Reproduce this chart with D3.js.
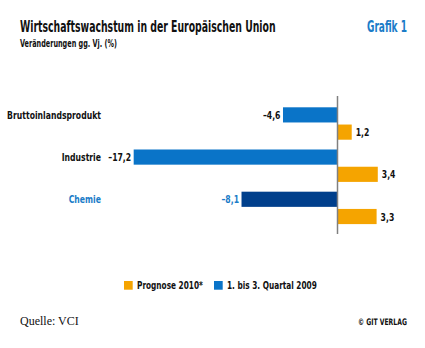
<!DOCTYPE html>
<html>
<head>
<meta charset="utf-8">
<script src="https://cdn.jsdelivr.net/npm/d3@7"></script>
<style>
  body { margin: 0; background: #fff; }
  text { font-family: "DejaVu Sans Condensed", "Liberation Sans Narrow", sans-serif; font-weight: bold; }
</style>
</head>
<body>
<div id="chart"></div>
<script>
var categories = ["Bruttoinlandsprodukt", "Industrie", "Chemie"];
var series = ["1. bis 3. Quartal 2009", "Prognose 2010*"];
var quartal2009 = [-4.6, -17.2, -8.1];
var prognose2010 = [1.2, 3.4, 3.3];
var legendOrder = ["Prognose 2010*", "1. bis 3. Quartal 2009"];

var width = 425, height = 348;
var blue = "#0a74c8", darkBlue = "#003f8c", orange = "#f5a400", labelBlue = "#1b7cc8";
var condense = 0.78;

var svg = d3.select("#chart").append("svg")
    .attr("width", width)
    .attr("height", height);

// the original uses a condensed face: place text at (x,y) and squeeze it
// horizontally, either by a factor k or to a given width w
function place(sel, xf, yf, k, w) {
  sel.each(function(d, i) {
    var t = d3.select(this);
    var kk = w ? w / this.getComputedTextLength() : k;
    var px = typeof xf === "function" ? xf(d, i) : xf;
    var py = typeof yf === "function" ? yf(d, i) : yf;
    t.attr("transform", "translate(" + px + "," + py + ") scale(" + kk + ",1)");
  });
}

// titles
svg.append("text")
    .style("font-size", "15px").attr("fill", "#111")
    .text("Wirtschaftswachstum in der Europäischen Union")
    .call(place, 20, 32, null, 256);
svg.append("text")
    .style("font-size", "10px").attr("fill", "#111")
    .text("Veränderungen gg. Vj. (%)")
    .call(place, 20, 46.5, null, 97);
svg.append("text")
    .style("font-size", "15px").attr("fill", labelBlue)
    .text("Grafik 1")
    .call(place, 367, 32, null, 40);

var x = d3.scaleLinear().domain([-18, 6]).range([124.2, 408.6]);
var y0 = d3.scaleBand().domain(categories).range([107.3, 224.1]).paddingInner(0.232);
var y1 = d3.scaleBand().domain(series).range([0, y0.bandwidth()]).paddingInner(0.12);

var data = categories.map(function(c, i) {
  return {
    cat: c,
    values: [
      {key: series[0], value: quartal2009[i], cat: c},
      {key: series[1], value: prognose2010[i], cat: c}
    ]
  };
});

function barColor(d) {
  if (d.key === series[1]) return orange;
  return d.cat === "Chemie" ? darkBlue : blue;
}

var groups = svg.selectAll("g.group").data(data).enter()
  .append("g")
    .attr("class", "group")
    .attr("transform", function(d) { return "translate(0," + y0(d.cat) + ")"; });

groups.selectAll("rect").data(function(d) { return d.values; }).enter()
  .append("rect")
    .attr("x", function(d) { return x(Math.min(0, d.value)); })
    .attr("y", function(d) { return y1(d.key); })
    .attr("width", function(d) { return Math.abs(x(d.value) - x(0)); })
    .attr("height", y1.bandwidth())
    .attr("fill", barColor);

groups.selectAll("text.val").data(function(d) { return d.values; }).enter()
  .append("text")
    .attr("class", "val")
    .attr("text-anchor", function(d) { return d.value < 0 ? "end" : "start"; })
    .style("font-size", "11px")
    .attr("fill", function(d) { return d.cat === "Chemie" && d.value < 0 ? labelBlue : "#111"; })
    .text(function(d) { return (d.value < 0 ? "\u2013" : "") + d3.format(".1f")(Math.abs(d.value)).replace(".", ","); })
    .call(place,
      function(d) { return d.value < 0 ? x(d.value) - 2.5 : x(d.value) + 4; },
      function(d) { return y1(d.key) + y1.bandwidth() / 2 + 4; },
      condense);

groups.append("text")
    .attr("text-anchor", "end")
    .style("font-size", "11px")
    .attr("fill", function(d) { return d.cat === "Chemie" ? labelBlue : "#111"; })
    .text(function(d) { return d.cat; })
    .call(place, 101, y1(series[0]) + y1.bandwidth() / 2 + 4, condense);

// zero line
svg.append("line")
    .attr("x1", x(0)).attr("x2", x(0))
    .attr("y1", 96).attr("y2", 234)
    .attr("stroke", "#808080").attr("stroke-width", 1.5);

// legend
var legendX = [124, 214];
var legend = svg.selectAll("g.legend").data(legendOrder).enter()
  .append("g")
    .attr("class", "legend")
    .attr("transform", function(d, i) { return "translate(" + legendX[i] + ",281)"; });
legend.append("rect")
    .attr("width", 8.7).attr("height", 8.7)
    .attr("fill", function(d) { return d === series[1] ? orange : blue; });
legend.append("text")
    .style("font-size", "10.5px").attr("fill", "#111")
    .text(function(d) { return d; })
    .call(place, 13, 8.3, condense);

// footer
svg.append("text").attr("x", 20).attr("y", 325)
    .style("font-family", "'Liberation Serif', 'DejaVu Serif', serif")
    .style("font-weight", "normal")
    .style("font-size", "12px").attr("fill", "#111")
    .text("Quelle: VCI");
svg.append("text")
    .style("font-size", "9px").attr("fill", "#111")
    .text("© GIT VERLAG")
    .call(place, 358, 324.5, null, 49);
</script>
</body>
</html>
